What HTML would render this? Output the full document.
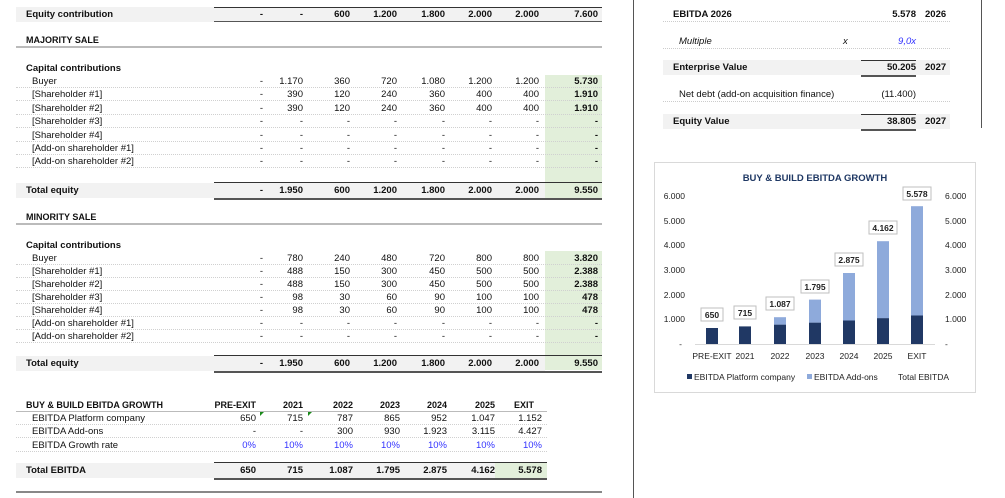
<!DOCTYPE html>
<html><head><meta charset="utf-8"><style>
*{margin:0;padding:0;box-sizing:border-box}
body{width:1005px;height:498px;background:#fff;position:relative;overflow:hidden;font-family:"Liberation Sans",sans-serif;font-size:9.5px;color:#111}
.a{position:absolute}
.r{position:absolute;left:16px;width:586px;height:13px;line-height:13px;border-bottom:1px dotted #d0d0d0}
.r span{position:absolute;top:0;text-align:right;width:50px}
.l{left:0 !important;text-align:left !important;width:200px !important}
.i{left:0 !important;text-align:left !important;width:200px !important}
.c1{left:197px}.c2{left:237px}.c3{left:284px}.c4{left:331px}.c5{left:379px}.c6{left:426px}.c7{left:473px}.ct{left:532px}
.b{font-weight:bold}
.g{background:#f2f2f2}
.tl{position:absolute;left:214px;width:388px;border-top:1.5px solid #333}
.bl{position:absolute;left:214px;width:388px;border-top:2px solid #555}
.hd{position:absolute;left:16px;width:586px;border-bottom:2px solid #bbb;font-weight:bold;font-size:9px;height:14px;line-height:12px}
.blue{color:#3333ff}
</style></head><body>
<div class="a" style="left:545px;top:75px;width:57px;height:123px;background:#e2efda"></div>
<div class="a" style="left:545px;top:251px;width:57px;height:119px;background:#e2efda"></div>

<div class="a g" style="left:16px;top:7px;width:586px;height:15px"></div>
<div class="tl" style="top:7px"></div>
<div class="r b" style="top:8px;border:none"><span class="l" style="padding-left:10px">Equity contribution</span><span class="c1">-</span><span class="c2">-</span><span class="c3">600</span><span class="c4">1.200</span><span class="c5">1.800</span><span class="c6">2.000</span><span class="c7">2.000</span><span class="ct">7.600</span></div>
<div class="bl" style="top:21px;border-top-width:1.5px"></div>

<div class="hd" style="top:34px;padding-left:10px">MAJORITY SALE</div>

<div class="r b" style="top:62px;border:none;padding-left:10px">Capital contributions</div>
<div class="r" style="top:75px"><span class="i" style="padding-left:16px">Buyer</span><span class="c1">-</span><span class="c2">1.170</span><span class="c3">360</span><span class="c4">720</span><span class="c5">1.080</span><span class="c6">1.200</span><span class="c7">1.200</span><span class="ct b">5.730</span></div>
<div class="r" style="top:88px"><span class="i" style="padding-left:16px">[Shareholder #1]</span><span class="c1">-</span><span class="c2">390</span><span class="c3">120</span><span class="c4">240</span><span class="c5">360</span><span class="c6">400</span><span class="c7">400</span><span class="ct b">1.910</span></div>
<div class="r" style="top:102px"><span class="i" style="padding-left:16px">[Shareholder #2]</span><span class="c1">-</span><span class="c2">390</span><span class="c3">120</span><span class="c4">240</span><span class="c5">360</span><span class="c6">400</span><span class="c7">400</span><span class="ct b">1.910</span></div>
<div class="r" style="top:115px"><span class="i" style="padding-left:16px">[Shareholder #3]</span><span class="c1">-</span><span class="c2">-</span><span class="c3">-</span><span class="c4">-</span><span class="c5">-</span><span class="c6">-</span><span class="c7">-</span><span class="ct b">-</span></div>
<div class="r" style="top:129px"><span class="i" style="padding-left:16px">[Shareholder #4]</span><span class="c1">-</span><span class="c2">-</span><span class="c3">-</span><span class="c4">-</span><span class="c5">-</span><span class="c6">-</span><span class="c7">-</span><span class="ct b">-</span></div>
<div class="r" style="top:142px"><span class="i" style="padding-left:16px">[Add-on shareholder #1]</span><span class="c1">-</span><span class="c2">-</span><span class="c3">-</span><span class="c4">-</span><span class="c5">-</span><span class="c6">-</span><span class="c7">-</span><span class="ct b">-</span></div>
<div class="r" style="top:155px"><span class="i" style="padding-left:16px">[Add-on shareholder #2]</span><span class="c1">-</span><span class="c2">-</span><span class="c3">-</span><span class="c4">-</span><span class="c5">-</span><span class="c6">-</span><span class="c7">-</span><span class="ct b">-</span></div>

<div class="a g" style="left:16px;top:183px;width:529px;height:15px"></div>
<div class="tl" style="top:182px"></div>
<div class="r b" style="top:184px;border:none"><span class="l" style="padding-left:10px">Total equity</span><span class="c1">-</span><span class="c2">1.950</span><span class="c3">600</span><span class="c4">1.200</span><span class="c5">1.800</span><span class="c6">2.000</span><span class="c7">2.000</span><span class="ct">9.550</span></div>
<div class="bl" style="top:198px"></div>

<div class="hd" style="top:211px;padding-left:10px">MINORITY SALE</div>

<div class="r b" style="top:239px;border:none;padding-left:10px">Capital contributions</div>
<div class="r" style="top:252px"><span class="i" style="padding-left:16px">Buyer</span><span class="c1">-</span><span class="c2">780</span><span class="c3">240</span><span class="c4">480</span><span class="c5">720</span><span class="c6">800</span><span class="c7">800</span><span class="ct b">3.820</span></div>
<div class="r" style="top:265px"><span class="i" style="padding-left:16px">[Shareholder #1]</span><span class="c1">-</span><span class="c2">488</span><span class="c3">150</span><span class="c4">300</span><span class="c5">450</span><span class="c6">500</span><span class="c7">500</span><span class="ct b">2.388</span></div>
<div class="r" style="top:278px"><span class="i" style="padding-left:16px">[Shareholder #2]</span><span class="c1">-</span><span class="c2">488</span><span class="c3">150</span><span class="c4">300</span><span class="c5">450</span><span class="c6">500</span><span class="c7">500</span><span class="ct b">2.388</span></div>
<div class="r" style="top:291px"><span class="i" style="padding-left:16px">[Shareholder #3]</span><span class="c1">-</span><span class="c2">98</span><span class="c3">30</span><span class="c4">60</span><span class="c5">90</span><span class="c6">100</span><span class="c7">100</span><span class="ct b">478</span></div>
<div class="r" style="top:304px"><span class="i" style="padding-left:16px">[Shareholder #4]</span><span class="c1">-</span><span class="c2">98</span><span class="c3">30</span><span class="c4">60</span><span class="c5">90</span><span class="c6">100</span><span class="c7">100</span><span class="ct b">478</span></div>
<div class="r" style="top:317px"><span class="i" style="padding-left:16px">[Add-on shareholder #1]</span><span class="c1">-</span><span class="c2">-</span><span class="c3">-</span><span class="c4">-</span><span class="c5">-</span><span class="c6">-</span><span class="c7">-</span><span class="ct b">-</span></div>
<div class="r" style="top:330px"><span class="i" style="padding-left:16px">[Add-on shareholder #2]</span><span class="c1">-</span><span class="c2">-</span><span class="c3">-</span><span class="c4">-</span><span class="c5">-</span><span class="c6">-</span><span class="c7">-</span><span class="ct b">-</span></div>

<div class="a g" style="left:16px;top:356px;width:529px;height:15px"></div>
<div class="tl" style="top:355px"></div>
<div class="r b" style="top:357px;border:none"><span class="l" style="padding-left:10px">Total equity</span><span class="c1">-</span><span class="c2">1.950</span><span class="c3">600</span><span class="c4">1.200</span><span class="c5">1.800</span><span class="c6">2.000</span><span class="c7">2.000</span><span class="ct">9.550</span></div>
<div class="bl" style="top:371px"></div>

<div class="r b" style="top:399px;width:531px;border-bottom:1px solid #bbb;font-size:9px"><span class="l" style="padding-left:10px">BUY &amp; BUILD EBITDA GROWTH</span><span class="c1" style="left:190px">PRE-EXIT</span><span class="c2">2021</span><span class="c3" style="left:287px">2022</span><span class="c4" style="left:334px">2023</span><span class="c5" style="left:381px">2024</span><span class="c6" style="left:429px">2025</span><span class="c7" style="left:476px;text-align:left;padding-left:22px">EXIT</span></div>
<div class="r" style="top:412px;width:531px"><span class="i" style="padding-left:16px">EBITDA Platform company</span><span class="c1" style="left:190px">650</span><span class="c2">715</span><span class="c3" style="left:287px">787</span><span class="c4" style="left:334px">865</span><span class="c5" style="left:381px">952</span><span class="c6" style="left:429px">1.047</span><span class="c7" style="left:476px">1.152</span></div>
<div class="a" style="left:260px;top:412px;width:0;height:0;border-top:4px solid #1a8a1a;border-right:4px solid transparent"></div>
<div class="a" style="left:308px;top:412px;width:0;height:0;border-top:4px solid #1a8a1a;border-right:4px solid transparent"></div>
<div class="r" style="top:425px;width:531px"><span class="i" style="padding-left:16px">EBITDA Add-ons</span><span class="c1" style="left:190px">-</span><span class="c2">-</span><span class="c3" style="left:287px">300</span><span class="c4" style="left:334px">930</span><span class="c5" style="left:381px">1.923</span><span class="c6" style="left:429px">3.115</span><span class="c7" style="left:476px">4.427</span></div>
<div class="r blue" style="top:439px;width:531px"><span class="i" style="padding-left:16px;color:#111">EBITDA Growth rate</span><span class="c1" style="left:190px">0%</span><span class="c2">10%</span><span class="c3" style="left:287px">10%</span><span class="c4" style="left:334px">10%</span><span class="c5" style="left:381px">10%</span><span class="c6" style="left:429px">10%</span><span class="c7" style="left:476px">10%</span></div>

<div class="a g" style="left:16px;top:463px;width:479px;height:15px"></div>
<div class="a" style="left:495px;top:463px;width:52px;height:15px;background:#e2efda"></div>
<div class="tl" style="top:462px;width:333px"></div>
<div class="r b" style="top:464px;width:531px;border:none"><span class="l" style="padding-left:10px">Total EBITDA</span><span class="c1" style="left:190px">650</span><span class="c2">715</span><span class="c3" style="left:287px">1.087</span><span class="c4" style="left:334px">1.795</span><span class="c5" style="left:381px">2.875</span><span class="c6" style="left:429px">4.162</span><span class="c7" style="left:476px">5.578</span></div>
<div class="bl" style="top:478px;width:333px"></div>
<div class="a" style="left:16px;top:491px;width:586px;border-top:2px solid #888"></div>

<div class="a" style="left:633px;top:0;width:1px;height:498px;background:#555"></div>
<div class="a" style="left:981px;top:0;width:1px;height:128px;background:#555"></div>

<div class="a b" style="left:663px;top:8px;width:287px;height:14px;line-height:13px;border-bottom:1px dotted #ccc">
  <span class="a" style="left:10px">EBITDA 2026</span><span class="a" style="left:200px;width:53px;text-align:right">5.578</span><span class="a" style="left:262px">2026</span></div>
<div class="a" style="left:663px;top:35px;width:287px;height:14px;line-height:13px;border-bottom:1px dotted #ccc;font-style:italic">
  <span class="a" style="left:16px">Multiple</span><span class="a" style="left:180px">x</span><span class="a blue" style="left:200px;width:53px;text-align:right">9,0x</span></div>
<div class="a g b" style="left:663px;top:60px;width:287px;height:15px;line-height:15px">
  <span class="a" style="left:10px">Enterprise Value</span><span class="a" style="left:198px;width:55px;text-align:right;border-top:1.5px solid #333;line-height:13px">50.205</span><span class="a" style="left:262px">2027</span></div>
<div class="a" style="left:861px;top:75px;width:55px;border-top:2px solid #555"></div>
<div class="a" style="left:663px;top:88px;width:287px;height:14px;line-height:13px;border-bottom:1px dotted #ccc">
  <span class="a" style="left:16px">Net debt (add-on acquisition finance)</span><span class="a" style="left:200px;width:53px;text-align:right">(11.400)</span></div>
<div class="a g b" style="left:663px;top:114px;width:287px;height:15px;line-height:15px">
  <span class="a" style="left:10px">Equity Value</span><span class="a" style="left:198px;width:55px;text-align:right;border-top:1.5px solid #333;line-height:13px">38.805</span><span class="a" style="left:262px">2027</span></div>
<div class="a" style="left:861px;top:129px;width:55px;border-top:2px solid #555"></div>

<svg class="a" style="left:654px;top:162px" width="322" height="231" viewBox="654 162 322 231" font-family="Liberation Sans, sans-serif" font-size="8.5">
<rect x="654.5" y="162.5" width="321" height="230" fill="#fff" stroke="#d9d9d9"/>
<text x="815" y="181" text-anchor="middle" font-weight="bold" font-size="9.5" fill="#1f3864">BUY &amp; BUILD EBITDA GROWTH</text>
<g fill="#222">
<text x="685" y="199" text-anchor="end">6.000</text><text x="685" y="224" text-anchor="end">5.000</text><text x="685" y="248" text-anchor="end">4.000</text><text x="685" y="273" text-anchor="end">3.000</text><text x="685" y="298" text-anchor="end">2.000</text><text x="685" y="322" text-anchor="end">1.000</text><text x="682" y="347" text-anchor="end">-</text>
<text x="945" y="199">6.000</text><text x="945" y="224">5.000</text><text x="945" y="248">4.000</text><text x="945" y="273">3.000</text><text x="945" y="298">2.000</text><text x="945" y="322">1.000</text><text x="945" y="347">-</text>
</g>
<line x1="695" y1="344.5" x2="935" y2="344.5" stroke="#d9d9d9"/>
<g fill="#203864">
<rect x="706" y="328" width="12" height="16"/><rect x="739" y="326.4" width="12" height="17.6"/><rect x="774" y="324.6" width="12" height="19.4"/><rect x="809" y="322.6" width="12" height="21.4"/><rect x="843" y="320.5" width="12" height="23.5"/><rect x="877" y="318.1" width="12" height="25.9"/><rect x="911" y="315.5" width="12" height="28.5"/>
</g>
<g fill="#8eaadb">
<rect x="774" y="317.2" width="12" height="7.4"/><rect x="809" y="299.6" width="12" height="23"/><rect x="843" y="273" width="12" height="47.5"/><rect x="877" y="241.2" width="12" height="76.9"/><rect x="911" y="206.2" width="12" height="109.3"/>
</g>
<g fill="#fff" stroke="#bfbfbf">
<rect x="701" y="308" width="22" height="13"/><rect x="734" y="306" width="22" height="13"/><rect x="766" y="297" width="28" height="13"/><rect x="801" y="280" width="28" height="13"/><rect x="835" y="253" width="28" height="13"/><rect x="869" y="221" width="28" height="13"/><rect x="903" y="187" width="28" height="13"/>
</g>
<g font-weight="bold" text-anchor="middle" fill="#222">
<text x="712" y="318">650</text><text x="745" y="316">715</text><text x="780" y="307">1.087</text><text x="815" y="290">1.795</text><text x="849" y="263">2.875</text><text x="883" y="231">4.162</text><text x="917" y="197">5.578</text>
</g>
<g text-anchor="middle" fill="#222">
<text x="712" y="359">PRE-EXIT</text><text x="745" y="359">2021</text><text x="780" y="359">2022</text><text x="815" y="359">2023</text><text x="849" y="359">2024</text><text x="883" y="359">2025</text><text x="917" y="359">EXIT</text>
</g>
<rect x="687" y="374" width="5" height="5" fill="#203864"/><text x="694" y="380" fill="#222">EBITDA Platform company</text>
<rect x="807" y="374" width="5" height="5" fill="#8eaadb"/><text x="814" y="380" fill="#222">EBITDA Add-ons</text>
<text x="898" y="380" fill="#222">Total EBITDA</text>
</svg>
</body></html>
